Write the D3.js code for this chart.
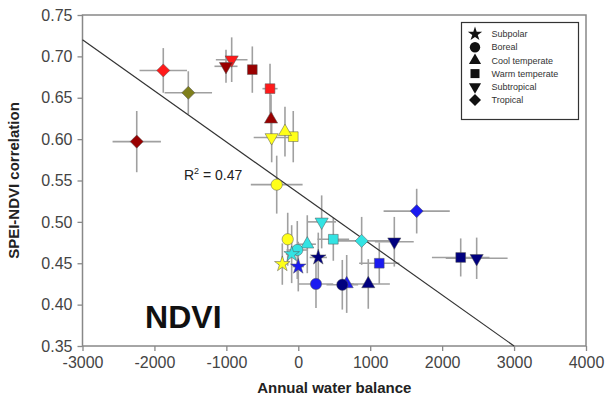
<!DOCTYPE html>
<html>
<head>
<meta charset="utf-8">
<script src="https://cdn.jsdelivr.net/npm/d3@7"></script>
<style>
  body { margin: 0; background: #fff; }
  text { font-family: Arial, "Liberation Sans", sans-serif; }
</style>
</head>
<body>
<div class="chart"></div>
<script>
// biome (marker shape) for each site group
var biome = ["Tropical", "Tropical", "Tropical", "Tropical", "Tropical",
  "Subtropical", "Subtropical", "Subtropical", "Subtropical", "Subtropical", "Subtropical",
  "Warm temperate", "Warm temperate", "Warm temperate", "Warm temperate", "Warm temperate", "Warm temperate",
  "Cool temperate", "Cool temperate", "Cool temperate", "Cool temperate", "Cool temperate",
  "Boreal", "Boreal", "Boreal", "Boreal", "Boreal",
  "Subpolar", "Subpolar", "Subpolar", "Subpolar"];
// colour class (dry -> wet)
var group = ["red", "olive", "darkred", "blue", "cyan",
  "red", "darkred", "yellow", "cyan", "navy", "navy",
  "darkred", "red", "yellow", "cyan", "blue", "navy",
  "darkred", "yellow", "cyan", "blue", "navy",
  "yellow", "yellow", "cyan", "blue", "navy",
  "yellow", "navy", "blue", "cyan"];
var waterBalance = [-1877, -1529, -2246, 1646, 881,
  -926, -1005, -370, 325, 1335, 2480,
  -639, -393, -70, 487, 1126, 2258,
  -379, -185, 125, 673, 973,
  -300, -147, -14, 246, 612,
  -222, 278, 0, -92];
var correlation = [0.683, 0.656, 0.597, 0.513, 0.477,
  0.696, 0.688, 0.602, 0.500, 0.476, 0.456,
  0.684, 0.661, 0.603, 0.479, 0.450, 0.457,
  0.624, 0.609, 0.473, 0.425, 0.425,
  0.545, 0.479, 0.466, 0.425, 0.424,
  0.449, 0.457, 0.446, 0.461];
var waterErr = [330, 330, 336, 460, 380,
  220, 160, 250, 200, 270, 430,
  60, 105, 60, 220, 280, 400,
  0, 50, 120, 100, 300,
  360, 50, 150, 240, 220,
  60, 120, 80, 80];
var corrErr = [0.027, 0.026, 0.037, 0.027, 0.029,
  0.027, 0.02, 0.03, 0.032, 0.03, 0.025,
  0.028, 0.03, 0.031, 0.026, 0.025, 0.023,
  0.03, 0.03, 0.035, 0.035, 0.03,
  0.035, 0.032, 0.035, 0.029, 0.03,
  0.025, 0.03, 0.03, 0.035];

var legendNames = ["Subpolar", "Boreal", "Cool temperate", "Warm temperate", "Subtropical", "Tropical"];
var xTicks = [-3000, -2000, -1000, 0, 1000, 2000, 3000, 4000];
var yTicks = [0.35, 0.40, 0.45, 0.50, 0.55, 0.60, 0.65, 0.70, 0.75];
// fitted line end points
var fitX = [-3000, 3000];
var fitY = [0.72, 0.35];

var colours = {
  red: "#ff1a1a", darkred: "#990000", olive: "#7f7f1c", yellow: "#ffff1a",
  cyan: "#33e3e3", blue: "#1a1af0", navy: "#00007f"
};

var margin = {top: 15, right: 21, bottom: 58, left: 82.5};
var width = 607 - margin.left - margin.right,
    height = 404 - margin.top - margin.bottom;

var svg = d3.select(".chart").append("svg")
    .attr("width", 607)
    .attr("height", 404)
  .append("g")
    .attr("transform", "translate(" + margin.left + "," + margin.top + ")");

var x = d3.scaleLinear().domain([-3000, 4000]).range([0, width]);
var y = d3.scaleLinear().domain([0.35, 0.75]).range([height, 0]);

// axes
var xAxis = svg.append("g")
    .attr("transform", "translate(0," + height + ")")
    .call(d3.axisBottom(x).tickValues(xTicks).tickSize(5).tickPadding(6)
      .tickFormat(function(d) { return String(d); }));
var yAxis = svg.append("g")
    .call(d3.axisLeft(y).tickValues(yTicks).tickSize(5).tickPadding(5)
      .tickFormat(function(d) { return d.toFixed(2); }));

[xAxis, yAxis].forEach(function(a) {
  a.select(".domain").remove();
  a.selectAll("line").attr("stroke", "#888").attr("stroke-width", 1.3);
  a.selectAll("text").attr("fill", "#444").style("font-size", "16px");
});

// frame
svg.append("rect")
    .attr("width", width)
    .attr("height", height)
    .attr("fill", "none")
    .attr("stroke", "#888")
    .attr("stroke-width", 1.5);

// axis titles
svg.append("text")
    .attr("x", width / 2)
    .attr("y", height + 47)
    .attr("text-anchor", "middle")
    .style("font-size", "15px")
    .style("font-weight", "bold")
    .attr("fill", "#222")
    .text("Annual water balance");

svg.append("text")
    .attr("transform", "translate(" + (-64) + "," + (height / 2) + ") rotate(-90)")
    .attr("text-anchor", "middle")
    .style("font-size", "15px")
    .style("font-weight", "bold")
    .attr("fill", "#222")
    .text("SPEI-NDVI correlation");

var idx = d3.range(waterBalance.length);

// error bars
var bars = svg.append("g")
    .attr("stroke", "#a0a0a0")
    .attr("stroke-width", 1.6);
bars.selectAll("line.xerr")
    .data(idx.filter(function(i) { return waterErr[i] > 0; }))
  .enter().append("line")
    .attr("class", "xerr")
    .attr("x1", function(i) { return x(waterBalance[i] - waterErr[i]); })
    .attr("x2", function(i) { return x(waterBalance[i] + waterErr[i]); })
    .attr("y1", function(i) { return y(correlation[i]); })
    .attr("y2", function(i) { return y(correlation[i]); });
bars.selectAll("line.yerr")
    .data(idx)
  .enter().append("line")
    .attr("class", "yerr")
    .attr("x1", function(i) { return x(waterBalance[i]); })
    .attr("x2", function(i) { return x(waterBalance[i]); })
    .attr("y1", function(i) { return y(correlation[i] - corrErr[i]); })
    .attr("y2", function(i) { return y(correlation[i] + corrErr[i]); });

// regression line
svg.append("line")
    .attr("x1", x(fitX[0])).attr("y1", y(fitY[0]))
    .attr("x2", x(fitX[1])).attr("y2", y(fitY[1]))
    .attr("stroke", "#333")
    .attr("stroke-width", 1.2);

// marker shapes per biome
function shapePath(name, scale) {
  scale = scale || 1;
  if (name === "Subpolar") return {d: d3.symbol(d3.symbolStar, 75 * scale)(), rot: 0};
  if (name === "Boreal") return {d: d3.symbol(d3.symbolCircle, 100 * scale)(), rot: 0};
  if (name === "Cool temperate") return {d: d3.symbol(d3.symbolTriangle, 75 * scale)(), rot: 0};
  if (name === "Warm temperate") return {d: d3.symbol(d3.symbolSquare, 95 * scale)(), rot: 0};
  if (name === "Subtropical") return {d: d3.symbol(d3.symbolTriangle, 75 * scale)(), rot: 180};
  return {d: d3.symbol(d3.symbolSquare, 85 * scale)(), rot: 45};
}

svg.append("g").selectAll("path")
    .data(idx)
  .enter().append("path")
    .attr("d", function(i) { return shapePath(biome[i]).d; })
    .attr("transform", function(i) {
      return "translate(" + x(waterBalance[i]) + "," + y(correlation[i]) + ") rotate(" + shapePath(biome[i]).rot + ")";
    })
    .attr("fill", function(i) { return colours[group[i]]; })
    .attr("stroke", "#555")
    .attr("stroke-width", 0.5);

// R2 label
var r2 = svg.append("text")
    .attr("x", x(-1590))
    .attr("y", y(0.551))
    .style("font-size", "14px")
    .attr("fill", "#222");
r2.append("tspan").text("R");
r2.append("tspan").attr("dy", -6).style("font-size", "9px").text("2");
r2.append("tspan").attr("dy", 6).text(" = 0.47");

// panel label
svg.append("text")
    .attr("x", x(-2130))
    .attr("y", y(0.372))
    .style("font-size", "32px")
    .style("font-weight", "bold")
    .attr("fill", "#111")
    .text("NDVI");

// legend
var legend = svg.append("g")
    .attr("transform", "translate(" + (461.5 - margin.left) + "," + (22.5 - margin.top) + ")");
legend.append("rect")
    .attr("width", 117)
    .attr("height", 97)
    .attr("fill", "#fff")
    .attr("stroke", "#333")
    .attr("stroke-width", 1.2);
var row = legend.selectAll("g.row")
    .data(legendNames)
  .enter().append("g")
    .attr("class", "row")
    .attr("transform", function(d, i) { return "translate(0," + (11.5 + i * 13.2) + ")"; });
row.append("path")
    .attr("d", function(d) { return shapePath(d, 0.85).d; })
    .attr("transform", function(d) { return "translate(13.5,0) rotate(" + shapePath(d, 0.85).rot + ")"; })
    .attr("fill", "#111");
row.append("text")
    .attr("x", 30)
    .attr("dy", "0.35em")
    .style("font-size", "9px")
    .attr("fill", "#333")
    .text(function(d) { return d; });
</script>
</body>
</html>
